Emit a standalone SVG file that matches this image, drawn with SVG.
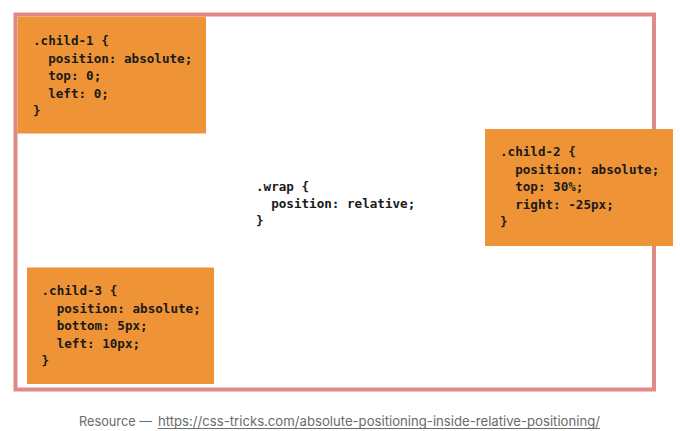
<svg xmlns="http://www.w3.org/2000/svg" width="680" height="431" viewBox="0 0 680 431">
<style>
.box{fill:#ee9436;}
.code{font-family:"DejaVu Sans Mono","Liberation Mono",monospace;font-size:12.6px;font-weight:bold;fill:#1a1a1a;white-space:pre;}
.cap{font-family:"Inter","Liberation Sans",sans-serif;font-size:13.5px;fill:#6b6b6b;}
</style>
<rect width="680" height="431" fill="#ffffff"/>
<g id="wrap">
<rect x="15.5" y="14.5" width="638.5" height="375" fill="none" stroke="#e08a87" stroke-width="4"/>
<text class="code" xml:space="preserve"><tspan x="256" y="191">.wrap {</tspan><tspan x="256" y="208">  position: relative;</tspan><tspan x="256" y="225">}</tspan></text>
</g>
<g id="child-1">
<rect class="box" x="17.5" y="16.5" width="188.5" height="117"/>
<text class="code" xml:space="preserve"><tspan x="33" y="45">.child-1 {</tspan><tspan x="33" y="62.5">  position: absolute;</tspan><tspan x="33" y="80">  top: 0;</tspan><tspan x="33" y="97.5">  left: 0;</tspan><tspan x="33" y="115">}</tspan></text>
</g>
<g id="child-2">
<rect class="box" x="485" y="129" width="188" height="117"/>
<text class="code" xml:space="preserve"><tspan x="500" y="156">.child-2 {</tspan><tspan x="500" y="173.5">  position: absolute;</tspan><tspan x="500" y="191">  top: 30%;</tspan><tspan x="500" y="208.5">  right: -25px;</tspan><tspan x="500" y="226">}</tspan></text>
</g>
<g id="child-3">
<rect class="box" x="27" y="267.5" width="187" height="116.5"/>
<text class="code" xml:space="preserve"><tspan x="41.5" y="295">.child-3 {</tspan><tspan x="41.5" y="312.5">  position: absolute;</tspan><tspan x="41.5" y="330">  bottom: 5px;</tspan><tspan x="41.5" y="347.5">  left: 10px;</tspan><tspan x="41.5" y="365">}</tspan></text>
</g>
<g id="caption">
<text class="cap" x="79" y="426" textLength="73" lengthAdjust="spacingAndGlyphs">Resource —</text>
<text class="cap" x="158" y="426" textLength="442" lengthAdjust="spacingAndGlyphs">https://css-tricks.com/absolute-positioning-inside-relative-positioning/</text>
<line x1="158" y1="428.5" x2="600" y2="428.5" stroke="#6b6b6b" stroke-width="1"/>
</g>
</svg>
